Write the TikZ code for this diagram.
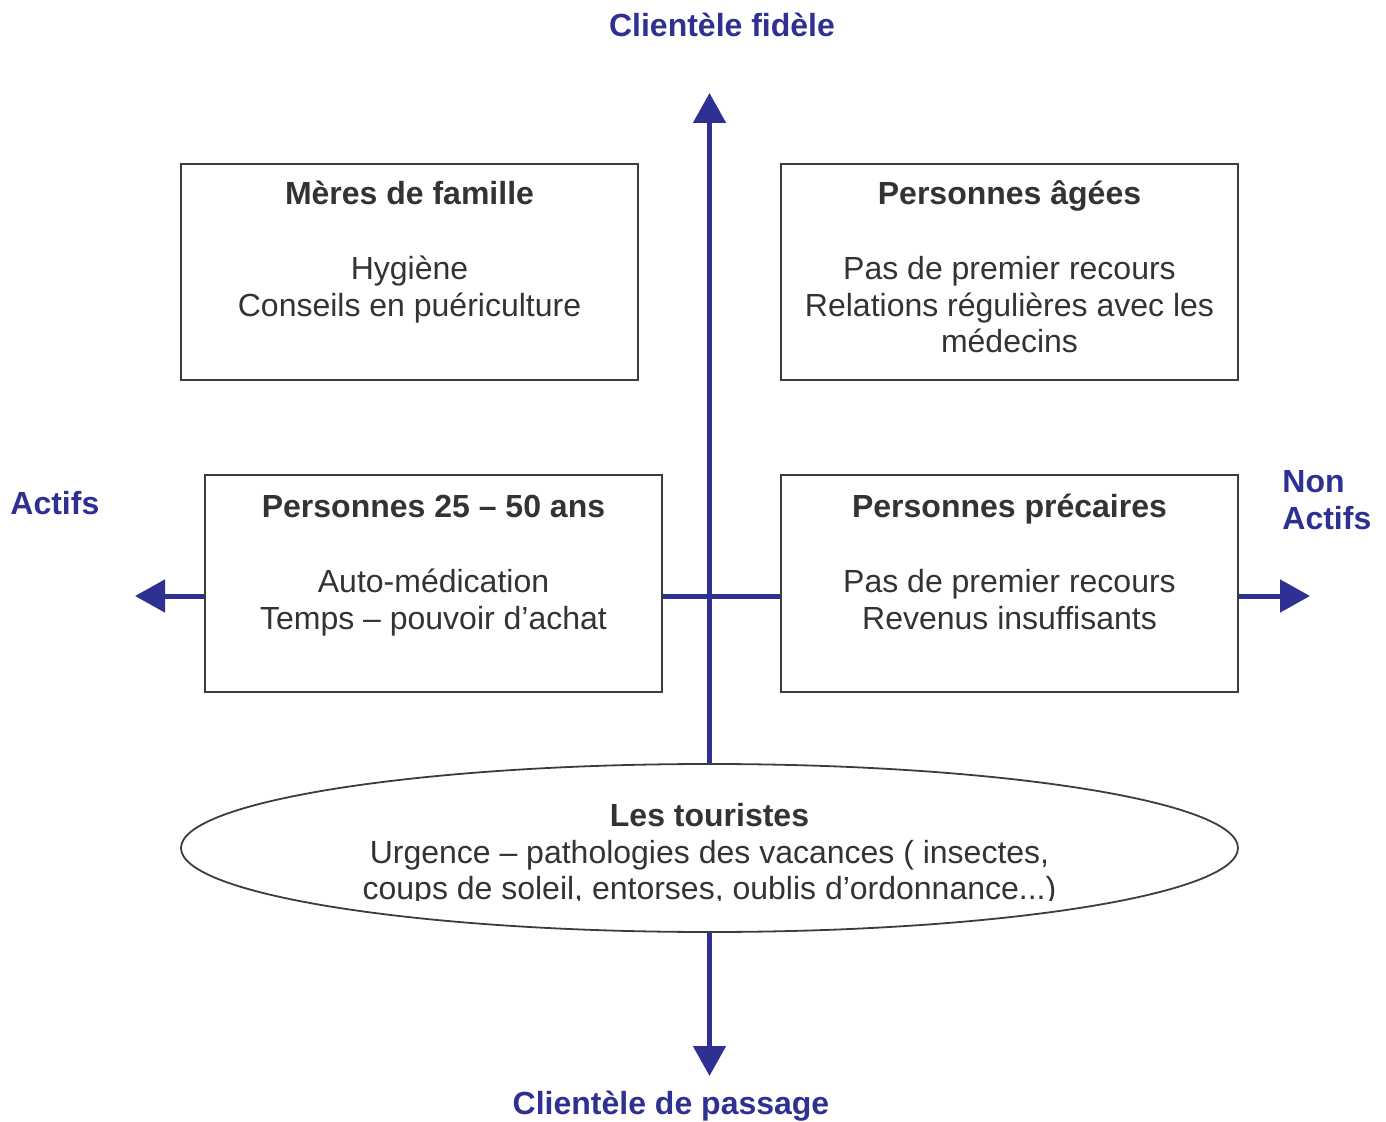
\documentclass[tikz,border=0pt]{standalone}
\usepackage{fontspec}
\setmainfont{Liberation Sans}
\usetikzlibrary{arrows.meta,shapes.geometric}
\definecolor{axisblue}{HTML}{2E3192}
\definecolor{txtgray}{HTML}{333333}
\definecolor{boxgray}{HTML}{3C3C3C}
\tikzset{
  boxstyle/.style={draw=boxgray, line width=1pt, rectangle, inner sep=0pt,
    minimum width=228.5pt, minimum height=108pt},
  ellstyle/.style={draw=boxgray, line width=0.9pt, ellipse, inner sep=0pt,
    minimum width=528.5pt, minimum height=84pt},
  txt/.style={anchor=base, inner sep=0pt, text=txtgray,
    font=\fontsize{16}{18.5}\selectfont},
  ttl/.style={txt, font=\fontsize{16}{18.5}\selectfont\bfseries},
  axlbl/.style={anchor=base, inner sep=0pt, text=axisblue,
    font=\fontsize{16}{18.5}\selectfont\bfseries},
  axisline/.style={draw=axisblue, line width=2.5pt},
  axisarrow/.style={axisline, -{Triangle[length=15pt,width=16pt]}}
}
\begin{document}
\begin{tikzpicture}[x=0.5pt,y=-0.5pt]
\useasboundingbox (0,0) rectangle (1386,1122);
% boxes
\node[boxstyle] (b1) at (409.5,272) {};
\node[boxstyle] (b2) at (1009.5,272) {};
\node[boxstyle] (b3) at (433.5,583.5) {};
\node[boxstyle] (b4) at (1009.5,583.5) {};
\node[ellstyle] (ell) at (709.5,848) {};
% axis coordinates
\coordinate (hc) at (709.5,596);
\coordinate (ttip) at (709.5,93);
\coordinate (btip) at (709.5,1076);
\coordinate (ltip) at (135,596);
\coordinate (rtip) at (1310,596);
% axes
\draw[axisarrow] (ell.north) -- (ttip);
\draw[axisarrow] (ell.south) -- (btip);
\draw[axisarrow] (b3.west |- hc) -- (ltip);
\draw[axisarrow] (b4.east |- hc) -- (rtip);
\draw[axisline] (b3.east |- hc) -- (b4.west |- hc);
% box 1
\node[ttl] (t1) at (409.5,205) {Mères de famille};
\node[txt] (t1a) at (409.5,280) {Hygiène};
\node[txt] (t1b) at (409.5,317) {Conseils en puériculture};
% box 2
\node[ttl] (t2) at (1009.5,205) {Personnes âgées};
\node[txt] (t2a) at (1009.5,280) {Pas de premier recours};
\node[txt] (t2b) at (1009.5,317) {Relations régulières avec les};
\node[txt] (t2c) at (1009.5,353) {médecins};
% box 3
\node[ttl] (t3) at (433.5,517) {Personnes 25 – 50 ans};
\node[txt] (t3a) at (433.5,592) {Auto-médication};
\node[txt] (t3b) at (433.5,629) {Temps – pouvoir d’achat};
% box 4
\node[ttl] (t4) at (1009.5,517) {Personnes précaires};
\node[txt] (t4a) at (1009.5,592) {Pas de premier recours};
\node[txt] (t4b) at (1009.5,629) {Revenus insuffisants};
% ellipse text
\begin{scope}
\clip (0,0) rectangle (1386,900);
\node[ttl] (e0) at (709.5,826) {Les touristes};
\node[txt] (e1) at (709.5,863) {Urgence – pathologies des vacances ( insectes,};
\node[txt] (e2) at (709.5,899) {coups de soleil, entorses, oublis d’ordonnance...)};
\end{scope}
% axis labels
\node[axlbl] (lt) at (722,37) {Clientèle fidèle};
\node[axlbl] (lb) at (671,1114) {Clientèle de passage};
\node[axlbl, anchor=base west] (ll) at (10,515) {Actifs};
\node[axlbl, anchor=base west] (lr1) at (1282,493) {Non};
\node[axlbl, anchor=base west] (lr2) at (1282,530) {Actifs};
\end{tikzpicture}
\end{document}
